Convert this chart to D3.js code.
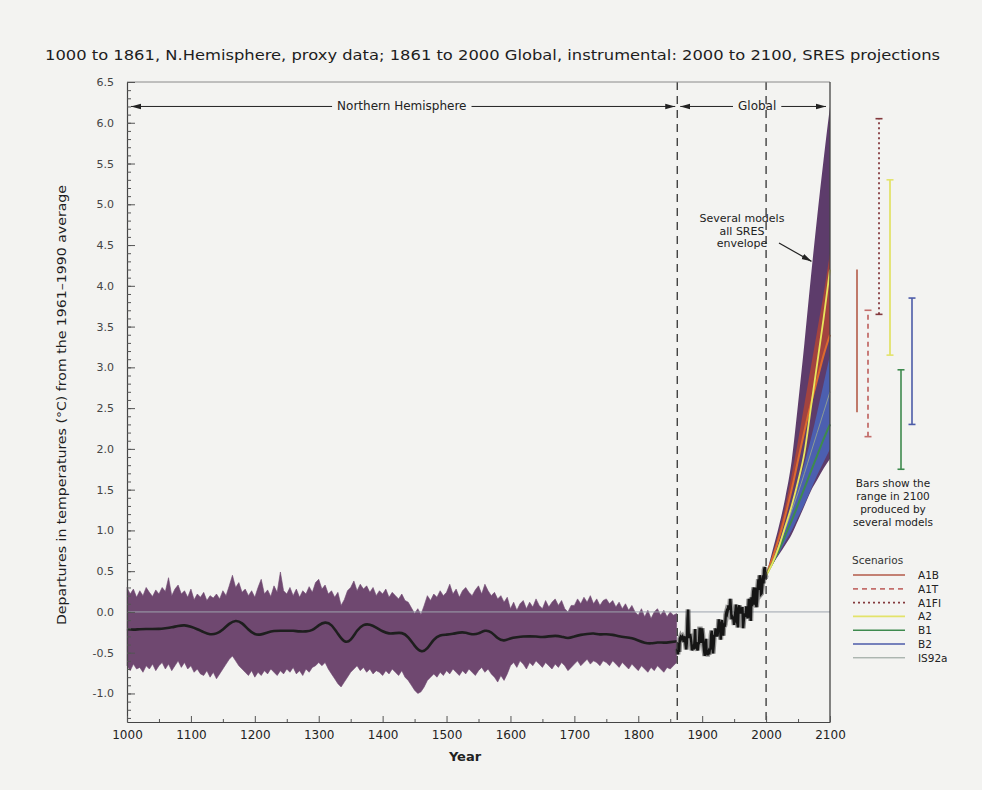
<!DOCTYPE html>
<html>
<head>
<meta charset="utf-8">
<script src="https://cdn.jsdelivr.net/npm/d3@7"></script>
<style>
  body { margin: 0; background: #f3f3f1; }
  svg { display: block; font-family: "DejaVu Sans", sans-serif; }
</style>
</head>
<body>
<svg id="chart"></svg>
<script>
// ---- proxy reconstruction, N. Hemisphere (uncertainty envelope every 5 years from 1000)
const proxyStart = 1000, envStep = 5, smoothStep = 10;
const proxyUpper = [
  0.30, 0.22, 0.28, 0.18, 0.26, 0.20, 0.30, 0.24, 0.19, 0.27,
  0.22, 0.30, 0.25, 0.42, 0.20, 0.28, 0.33, 0.22, 0.26, 0.18,
  0.28, 0.15, 0.22, 0.18, 0.24, 0.14, 0.20, 0.17, 0.22, 0.16,
  0.26, 0.20, 0.32, 0.45, 0.30, 0.36, 0.24, 0.28, 0.20, 0.26,
  0.18, 0.30, 0.40, 0.22, 0.27, 0.19, 0.32, 0.24, 0.49, 0.26,
  0.22, 0.30, 0.20, 0.28, 0.18, 0.26, 0.22, 0.31, 0.24, 0.36,
  0.40, 0.28, 0.33, 0.22, 0.26, 0.18, 0.24, 0.08, 0.15, 0.26,
  0.30, 0.38, 0.26, 0.34, 0.28, 0.32, 0.24, 0.30, 0.20, 0.26,
  0.22, 0.28, 0.18, 0.24, 0.20, 0.16, 0.22, 0.14, 0.12, 0.05,
  -0.02, 0.04, -0.03, 0.08, 0.20, 0.14, 0.22, 0.18, 0.26, 0.20,
  0.24, 0.34, 0.22, 0.28, 0.18, 0.26, 0.30, 0.24, 0.20, 0.27,
  0.32, 0.22, 0.34, 0.26, 0.20, 0.24, 0.16, 0.20, 0.12, 0.18,
  0.04, 0.12, 0.02, 0.10, 0.14, 0.04, 0.12, 0.06, 0.16, 0.08,
  0.04, 0.14, 0.06, 0.12, 0.16, 0.08, 0.14, 0.04, 0.00, 0.08,
  0.08, 0.16, 0.10, 0.18, 0.12, 0.20, 0.10, 0.16, 0.08, 0.14,
  0.16, 0.10, 0.14, 0.06, 0.12, 0.04, 0.10, 0.02, 0.08, 0.00,
  -0.04, 0.04, -0.06, 0.02, -0.08, 0.00, 0.04, -0.04, 0.02, -0.06,
  0.00, -0.04, -0.02
];
const proxyLower = [
  -0.66, -0.72, -0.64, -0.70, -0.68, -0.74, -0.66, -0.70, -0.64, -0.72,
  -0.66, -0.62, -0.70, -0.64, -0.72, -0.66, -0.60, -0.68, -0.62, -0.70,
  -0.66, -0.74, -0.70, -0.76, -0.78, -0.72, -0.80, -0.74, -0.82, -0.76,
  -0.70, -0.64, -0.58, -0.54, -0.60, -0.66, -0.70, -0.74, -0.78, -0.72,
  -0.80, -0.74, -0.78, -0.72, -0.76, -0.70, -0.74, -0.78, -0.72, -0.76,
  -0.70, -0.74, -0.68, -0.76, -0.72, -0.78, -0.70, -0.74, -0.68, -0.66,
  -0.62, -0.66, -0.62, -0.70, -0.76, -0.82, -0.88, -0.92, -0.86, -0.80,
  -0.74, -0.70, -0.66, -0.72, -0.68, -0.74, -0.70, -0.76, -0.72, -0.74,
  -0.78, -0.72, -0.76, -0.70, -0.74, -0.78, -0.72, -0.80, -0.84, -0.90,
  -0.96, -1.00, -0.98, -0.92, -0.84, -0.80, -0.76, -0.80, -0.74, -0.78,
  -0.72, -0.76, -0.70, -0.74, -0.78, -0.72, -0.76, -0.70, -0.74, -0.78,
  -0.72, -0.68, -0.74, -0.70, -0.76, -0.80, -0.86, -0.78, -0.84, -0.76,
  -0.66, -0.62, -0.68, -0.60, -0.64, -0.70, -0.62, -0.66, -0.60, -0.64,
  -0.68, -0.62, -0.66, -0.70, -0.64, -0.68, -0.62, -0.66, -0.72, -0.68,
  -0.64, -0.60, -0.66, -0.62, -0.58, -0.64, -0.60, -0.62, -0.66, -0.60,
  -0.62, -0.66, -0.60, -0.64, -0.68, -0.62, -0.66, -0.70, -0.64, -0.68,
  -0.72, -0.66, -0.70, -0.74, -0.68, -0.72, -0.66, -0.70, -0.74, -0.68,
  -0.70, -0.66, -0.62
];
// 40-year smoothed proxy, every 10 years from 1000
const proxySmooth = [
  -0.21, -0.22, -0.21, -0.21, -0.21, -0.21, -0.20, -0.19, -0.17, -0.16,
  -0.18, -0.21, -0.25, -0.28, -0.27, -0.22, -0.14, -0.10, -0.13, -0.22,
  -0.28, -0.28, -0.25, -0.23, -0.23, -0.23, -0.23, -0.24, -0.24, -0.23,
  -0.16, -0.12, -0.15, -0.27, -0.38, -0.36, -0.22, -0.15, -0.15, -0.19,
  -0.24, -0.27, -0.26, -0.25, -0.30, -0.42, -0.50, -0.46, -0.33, -0.28,
  -0.28, -0.27, -0.25, -0.25, -0.28, -0.27, -0.22, -0.24, -0.33, -0.36,
  -0.32, -0.31, -0.30, -0.30, -0.30, -0.31, -0.30, -0.29, -0.30, -0.33,
  -0.30, -0.28, -0.27, -0.26, -0.28, -0.27, -0.28, -0.30, -0.31, -0.32,
  -0.35, -0.38, -0.39, -0.37, -0.38, -0.37, -0.36
];

// ---- global instrumental record, annual from 1861
const instStart = 1861;
const instrumental = [
  -0.45, -0.52, -0.38, -0.49, -0.33, -0.31, -0.33, -0.31, -0.30, -0.32,
  -0.37, -0.30, -0.32, -0.40, -0.46, -0.38, -0.09, 0.03, -0.28, -0.32,
  -0.27, -0.31, -0.37, -0.47, -0.45, -0.40, -0.46, -0.35, -0.21, -0.45,
  -0.37, -0.45, -0.47, -0.40, -0.38, -0.21, -0.21, -0.38, -0.27, -0.20,
  -0.28, -0.40, -0.48, -0.54, -0.41, -0.33, -0.50, -0.52, -0.52, -0.49,
  -0.52, -0.46, -0.45, -0.28, -0.23, -0.42, -0.51, -0.41, -0.29, -0.28,
  -0.20, -0.30, -0.28, -0.30, -0.21, -0.09, -0.19, -0.19, -0.34, -0.14,
  -0.10, -0.15, -0.29, -0.14, -0.18, -0.15, -0.03, 0.00, -0.02, 0.02,
  0.08, 0.04, 0.05, 0.16, 0.04, -0.09, -0.06, -0.08, -0.09, -0.16,
  -0.05, 0.01, 0.09, -0.12, -0.14, -0.19, 0.05, 0.08, 0.04, -0.02,
  0.05, 0.03, 0.06, -0.20, -0.11, -0.05, -0.02, -0.06, 0.07, 0.03,
  -0.08, 0.02, 0.16, -0.07, -0.01, -0.11, 0.18, 0.07, 0.16, 0.26,
  0.30, 0.09, 0.30, 0.09, 0.06, 0.15, 0.31, 0.40, 0.27, 0.45,
  0.40, 0.22, 0.23, 0.31, 0.45, 0.35, 0.52, 0.55, 0.41, 0.45
];

// ---- SRES projections, every 10 years 2000..2100
const projYears = [2000, 2010, 2020, 2030, 2040, 2050, 2060, 2070, 2080, 2090, 2100];
const sresUpper = [0.45, 0.75, 1.05, 1.40, 1.85, 2.55, 3.30, 4.10, 4.85, 5.55, 6.20];
const sresLower = [0.45, 0.58, 0.70, 0.82, 0.95, 1.12, 1.30, 1.48, 1.62, 1.76, 1.88];
const redUpper  = [0.45, 0.70, 0.98, 1.30, 1.68, 2.10, 2.55, 3.00, 3.45, 3.90, 4.40];
const a1bLine   = [0.45, 0.66, 0.90, 1.18, 1.50, 1.86, 2.22, 2.55, 2.85, 3.15, 3.40];
const b2Upper   = [0.45, 0.62, 0.82, 1.04, 1.28, 1.55, 1.82, 2.12, 2.45, 2.80, 3.15];
const b2Lower   = [0.45, 0.58, 0.72, 0.86, 1.00, 1.16, 1.32, 1.50, 1.68, 1.84, 2.00];
const a2Line    = [0.45, 0.60, 0.80, 1.05, 1.30, 1.60, 1.95, 2.50, 3.05, 3.60, 4.20];
const b1Line    = [0.45, 0.60, 0.76, 0.94, 1.12, 1.32, 1.52, 1.72, 1.92, 2.12, 2.30];
const is92aLine = [0.45, 0.62, 0.82, 1.02, 1.24, 1.46, 1.70, 1.95, 2.20, 2.45, 2.70];

// ---- range bars in 2100
const barScen = ["A1B", "A1T", "A1FI", "A2", "B1", "B2"];
const barLow  = [2.45, 2.15, 3.65, 3.15, 1.75, 2.30];
const barHigh = [4.20, 3.70, 6.05, 5.30, 2.97, 3.85];

const legendNames = ["A1B", "A1T", "A1FI", "A2", "B1", "B2", "IS92a"];
const yTicks = [-1.0, -0.5, 0.0, 0.5, 1.0, 1.5, 2.0, 2.5, 3.0, 3.5, 4.0, 4.5, 5.0, 5.5, 6.0, 6.5];
const xTicks = [1000, 1100, 1200, 1300, 1400, 1500, 1600, 1700, 1800, 1900, 2000, 2100];

const scenStyle = {
  A1B:   { color: "#b35a48", dash: null,  w: 1.6 },
  A1T:   { color: "#c46f6c", dash: "5,4", w: 1.8 },
  A1FI:  { color: "#84393d", dash: "2,3", w: 1.8 },
  A2:    { color: "#e3e36a", dash: null,  w: 1.8 },
  B1:    { color: "#3e8a4e", dash: null,  w: 1.6 },
  B2:    { color: "#4c5ba8", dash: null,  w: 1.6 },
  IS92a: { color: "#8d9c94", dash: null,  w: 1.0 }
};

const W = 982, H = 790;
const svg = d3.select("#chart").attr("width", W).attr("height", H);
svg.append("rect").attr("width", W).attr("height", H).attr("fill", "#f3f3f1");

const x = d3.scaleLinear().domain([1000, 2100]).range([127, 830]);
const y = d3.scaleLinear().domain([-1.35, 6.5]).range([722, 82]);

const defs = svg.append("defs");
defs.append("marker").attr("id", "arr").attr("viewBox", "0 0 10 10")
  .attr("refX", 10).attr("refY", 5).attr("markerWidth", 10).attr("markerHeight", 10)
  .attr("markerUnits", "userSpaceOnUse").attr("orient", "auto-start-reverse")
  .append("path").attr("d", "M0,2.2L10,5L0,7.8z").attr("fill", "#222");

// proxy envelope
const envData = proxyUpper.map((u, i) => ({ yr: proxyStart + i * envStep, hi: u, lo: proxyLower[i] }));
svg.append("path").datum(envData)
  .attr("d", d3.area().x(d => x(d.yr)).y0(d => y(d.lo)).y1(d => y(d.hi)))
  .attr("fill", "#6f4870").attr("stroke", "#6f4870").attr("stroke-width", 0.6);

// SRES envelope + scenario bands
const proj = projYears.map((yr, i) => ({ yr, i }));
const band = (up, lo, fill) => svg.append("path").datum(proj)
  .attr("d", d3.area().x(d => x(d.yr)).y0(d => y(lo[d.i])).y1(d => y(up[d.i])).curve(d3.curveMonotoneX))
  .attr("fill", fill);
band(sresUpper, sresLower, "#5d3c6b");
band(redUpper, a1bLine, "#a3433f");
band(b2Upper, b2Lower, "#4c5fb0");
const pline = (vals, color, w) => svg.append("path").datum(proj)
  .attr("d", d3.line().x(d => x(d.yr)).y(d => y(vals[d.i])).curve(d3.curveMonotoneX))
  .attr("fill", "none").attr("stroke", color).attr("stroke-width", w);
pline(is92aLine, "#8d9c94", 1);
pline(a1bLine, "#dd6a2e", 2);
pline(b1Line, "#3e8a4e", 2);
pline(a2Line, "#e8e65c", 1.8);

// zero line
svg.append("line").attr("x1", x(1000)).attr("x2", x(2100)).attr("y1", y(0)).attr("y2", y(0))
  .attr("stroke", "#9ca4ad").attr("stroke-width", 1);

// smoothed proxy
svg.append("path").datum(proxySmooth)
  .attr("d", d3.line().x((d, i) => x(proxyStart + i * smoothStep)).y(d => y(d)).curve(d3.curveBasis))
  .attr("fill", "none").attr("stroke", "#1e1e1e").attr("stroke-width", 2.6);

// instrumental
const instLine = d3.line().x((d, i) => x(instStart + i)).y(d => y(d));
svg.append("path").datum(instrumental).attr("d", instLine)
  .attr("fill", "none").attr("stroke", "#444").attr("stroke-opacity", 0.55).attr("stroke-width", 5);
svg.append("path").datum(instrumental).attr("d", instLine)
  .attr("fill", "none").attr("stroke", "#151515").attr("stroke-width", 2.4);

// dashed dividers
[1861, 2000].forEach(yr => {
  svg.append("line").attr("x1", x(yr)).attr("x2", x(yr)).attr("y1", y(6.5)).attr("y2", y(-1.35))
    .attr("stroke", "#333").attr("stroke-width", 1.3).attr("stroke-dasharray", "8,6");
});

// frame
svg.append("line").attr("x1", x(1000)).attr("x2", x(2100)).attr("y1", y(6.5)).attr("y2", y(6.5))
  .attr("stroke", "#8a8a8a");
svg.append("line").attr("x1", x(2100)).attr("x2", x(2100)).attr("y1", y(6.5)).attr("y2", y(-1.35))
  .attr("stroke", "#444").attr("stroke-width", 1.3);

// axes
const yAxis = svg.append("g").attr("transform", `translate(${x(1000)},0)`)
  .call(d3.axisLeft(y).tickValues(yTicks).tickSizeInner(-8).tickSizeOuter(0).tickPadding(13)
    .tickFormat(d => d.toFixed(1)));
svg.append("g").attr("transform", `translate(${x(1000)},0)`)
  .call(d3.axisLeft(y).tickValues(d3.range(-13, 66).map(i => i / 10)).tickSize(-4).tickFormat(""))
  .select(".domain").remove();
const xAxis = svg.append("g").attr("transform", `translate(0,${y(-1.35)})`)
  .call(d3.axisBottom(x).tickValues(xTicks).tickSizeInner(-6).tickSizeOuter(0).tickPadding(8)
    .tickFormat(d3.format("d")));
svg.append("g").attr("transform", `translate(0,${y(-1.35)})`)
  .call(d3.axisBottom(x).tickValues(xTicks.slice(0, -1).map(t => t + 50)).tickSize(-3).tickFormat(""))
  .select(".domain").remove();
svg.selectAll(".tick line").attr("stroke", "#555");
svg.selectAll(".domain").attr("stroke", "#444").attr("stroke-width", 1.2);
yAxis.selectAll("text").attr("font-size", 11).attr("fill", "#444").attr("font-family", "DejaVu Sans");
xAxis.selectAll("text").attr("font-size", 12).attr("fill", "#222").attr("font-family", "DejaVu Sans");

// title and axis titles
svg.append("text").attr("x", 45).attr("y", 60).attr("font-size", 14).attr("fill", "#1e1e1e")
  .attr("textLength", 895).attr("lengthAdjust", "spacingAndGlyphs")
  .text("1000 to 1861, N.Hemisphere, proxy data; 1861 to 2000 Global, instrumental: 2000 to 2100, SRES projections");
svg.append("text").attr("transform", "translate(66,405) rotate(-90)").attr("text-anchor", "middle")
  .attr("font-size", 13).attr("fill", "#1e1e1e").attr("textLength", 440).attr("lengthAdjust", "spacingAndGlyphs")
  .text("Departures in temperatures (\u00B0C) from the 1961\u20131990 average");
svg.append("text").attr("x", 465).attr("y", 761).attr("text-anchor", "middle")
  .attr("font-size", 13).attr("font-weight", "bold").attr("fill", "#222").text("Year");

// region arrows at the top
const arrowY = y(6.2);
function spanArrow(x0, x1, label, cx) {
  const t = svg.append("text").attr("x", cx).attr("y", arrowY + 4).attr("text-anchor", "middle")
    .attr("font-size", 12).attr("fill", "#222").text(label);
  const half = t.node().getComputedTextLength() / 2 + 5;
  svg.append("line").attr("x1", cx - half).attr("x2", x0).attr("y1", arrowY).attr("y2", arrowY)
    .attr("stroke", "#222").attr("marker-end", "url(#arr)");
  svg.append("line").attr("x1", cx + half).attr("x2", x1).attr("y1", arrowY).attr("y2", arrowY)
    .attr("stroke", "#222").attr("marker-end", "url(#arr)");
}
spanArrow(x(1000) + 4, x(1861) - 2, "Northern Hemisphere", x(1430));
spanArrow(x(1861) + 3, x(2100) - 4, "Global", x(1986));

// envelope annotation
const note = svg.append("text").attr("text-anchor", "middle").attr("font-size", 11).attr("fill", "#222");
["Several models", "all SRES", "envelope"].forEach((s, i) =>
  note.append("tspan").attr("x", 742).attr("y", 222 + i * 12.5).text(s));
svg.append("line").attr("x1", 779).attr("y1", 243).attr("x2", x(2071)).attr("y2", y(4.3))
  .attr("stroke", "#222").attr("stroke-width", 1.2).attr("marker-end", "url(#arr)");

// range bars
const xb = d3.scalePoint().domain(barScen).range([857, 912]);
barScen.forEach((s, i) => {
  const st = scenStyle[s], bx = xb(s);
  svg.append("line").attr("x1", bx).attr("x2", bx).attr("y1", y(barLow[i])).attr("y2", y(barHigh[i]))
    .attr("stroke", st.color).attr("stroke-width", st.w).attr("stroke-dasharray", st.dash);
  if (s !== "A1B") {
    [barLow[i], barHigh[i]].forEach(v => svg.append("line")
      .attr("x1", bx - 3.5).attr("x2", bx + 3.5).attr("y1", y(v)).attr("y2", y(v))
      .attr("stroke", st.color).attr("stroke-width", 1.6));
  }
});
const bnote = svg.append("text").attr("text-anchor", "middle").attr("font-size", 10.5).attr("fill", "#222");
["Bars show the", "range in 2100", "produced by", "several models"].forEach((s, i) =>
  bnote.append("tspan").attr("x", 893).attr("y", 487 + i * 13).text(s));

// legend
svg.append("text").attr("x", 852).attr("y", 564).attr("font-size", 10.5).attr("fill", "#333").text("Scenarios");
legendNames.forEach((s, i) => {
  const st = scenStyle[s], ly = 575 + i * 13.8;
  svg.append("line").attr("x1", 853).attr("x2", 905).attr("y1", ly).attr("y2", ly)
    .attr("stroke", st.color).attr("stroke-width", st.w).attr("stroke-dasharray", st.dash);
  svg.append("text").attr("x", 918).attr("y", ly + 4).attr("font-size", 10.5).attr("fill", "#222").text(s);
});
</script>
</body>
</html>
